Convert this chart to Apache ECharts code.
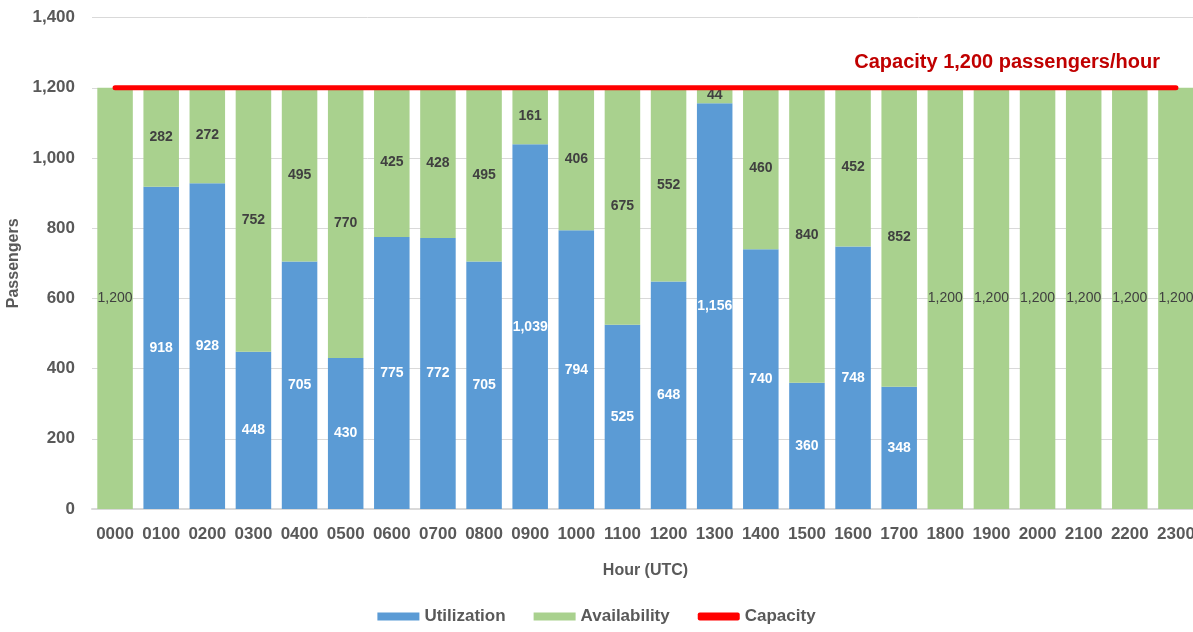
<!DOCTYPE html>
<html>
<head>
<meta charset="utf-8">
<script src="https://cdn.jsdelivr.net/npm/echarts@6/dist/echarts.min.js"></script>
<style>html,body{margin:0;padding:0;background:#fff}#c{width:1193px;height:632px}</style>
</head>
<body>
<div id="c"></div>
<script>
const hours = ['0000','0100','0200','0300','0400','0500','0600','0700','0800','0900','1000','1100','1200','1300','1400','1500','1600','1700','1800','1900','2000','2100','2200','2300'];
const utilization = [0,918,928,448,705,430,775,772,705,1039,794,525,648,1156,740,360,748,348,0,0,0,0,0,0];
const availability = [1200,282,272,752,495,770,425,428,495,161,406,675,552,44,460,840,452,852,1200,1200,1200,1200,1200,1200];
const capacity = [1200,1200,1200,1200,1200,1200,1200,1200,1200,1200,1200,1200,1200,1200,1200,1200,1200,1200,1200,1200,1200,1200,1200,1200];
const yTicks = [0,200,400,600,800,1000,1200,1400];
const capacityNote = 'Capacity 1,200 passengers/hour';

const fmt = v => v.toLocaleString('en-US');
const FONT = '"Liberation Sans", Arial, sans-serif';
const chart = echarts.init(document.getElementById('c'));

const availData = availability.map(v => {
  const item = { value: v };
  if (v === 1200) item.label = { fontWeight: 'normal', fontSize: 14 };
  return item;
});
const capData = capacity.map((v, i) => {
  const item = { value: v };
  if (i === capacity.length - 1) {
    item.label = {
      show: true, position: 'top', align: 'right', offset: [-16, -10],
      formatter: capacityNote, color: '#C00000', fontWeight: 'bold', fontSize: 20, fontFamily: FONT
    };
  }
  return item;
});

chart.setOption({
  animation: false,
  textStyle: { fontFamily: FONT },
  grid: { left: 92, top: 17.6, width: 1107, height: 491.4, containLabel: false, outerBoundsMode: 'none' },
  legend: {
    bottom: 2, left: 'center', itemWidth: 42, itemHeight: 8, itemGap: 28,
    textStyle: { fontSize: 17, fontWeight: 'bold', color: '#595959', fontFamily: FONT },
    data: [
      { name: 'Utilization', icon: 'rect' },
      { name: 'Availability', icon: 'rect' },
      { name: 'Capacity', icon: 'roundRect' }
    ]
  },
  xAxis: {
    type: 'category', data: hours,
    name: 'Hour (UTC)', nameLocation: 'middle', nameGap: 54,
    nameTextStyle: { fontSize: 16, fontWeight: 'bold', color: '#595959' },
    axisLine: { lineStyle: { color: '#D9D9D9', width: 2 } },
    axisTick: { show: false },
    axisLabel: { fontSize: 17, fontWeight: 'bold', color: '#595959', margin: 17, interval: 0 }
  },
  yAxis: {
    type: 'value', min: 0, max: yTicks[yTicks.length - 1], interval: 200,
    name: 'Passengers', nameLocation: 'middle', nameGap: 70, nameRotate: 90,
    nameTextStyle: { fontSize: 16, fontWeight: 'bold', color: '#595959' },
    axisLine: { show: false }, axisTick: { show: false },
    axisLabel: { fontSize: 17, fontWeight: 'bold', color: '#595959', margin: 17, formatter: v => fmt(v) },
    splitLine: { lineStyle: { color: '#D9D9D9', width: 1 } }
  },
  series: [
    {
      name: 'Utilization', type: 'bar', stack: 'p', barWidth: '77%', data: utilization,
      itemStyle: { color: '#5B9BD5' },
      label: { show: true, position: 'inside', color: '#FFFFFF', fontWeight: 'bold', fontSize: 14,
        formatter: p => p.value ? fmt(p.value) : '' }
    },
    {
      name: 'Availability', type: 'bar', stack: 'p', barWidth: '77%', data: availData,
      itemStyle: { color: '#A9D18E' },
      label: { show: true, position: 'inside', color: '#404040', fontWeight: 'bold', fontSize: 14,
        formatter: p => fmt(p.value) }
    },
    {
      name: 'Capacity', type: 'line', data: capData, z: 5,
      symbol: 'circle', symbolSize: 1, showSymbol: true,
      lineStyle: { color: '#FF0000', width: 5, cap: 'round' },
      itemStyle: { color: '#FF0000' },
      label: { show: false }
    }
  ]
});
</script>
</body>
</html>
